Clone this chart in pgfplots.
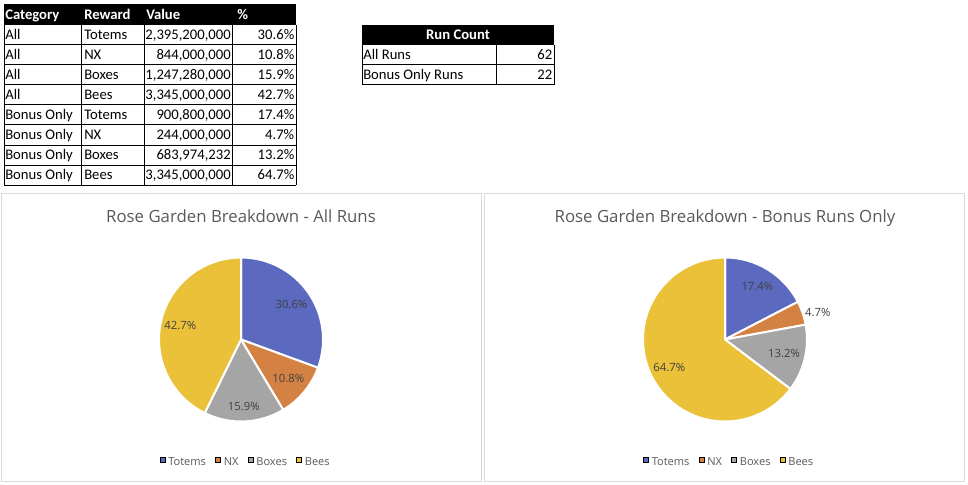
\documentclass[border=0pt]{standalone}
\usepackage{fontspec}
\setmainfont{Carlito}
\newfontfamily\chartfont{Open Sans}
\usepackage{pgfplots}
\pgfplotsset{compat=1.18}
\definecolor{totems}{HTML}{5B69BF}
\definecolor{nx}{HTML}{D38244}
\definecolor{boxes}{HTML}{A5A5A5}
\definecolor{bees}{HTML}{EBC13A}
\definecolor{lbl}{HTML}{404040}
\definecolor{ttl}{HTML}{595959}
\definecolor{brd}{HTML}{D9D9D9}
\newcommand\lblfont{\chartfont\fontsize{8.5}{10}\selectfont}
\newcommand\legfont{\chartfont\fontsize{8.3}{10}\selectfont}
\newcommand\titlefont{\chartfont\fontsize{12.6}{15}\selectfont}
\gdef\cum{90}
% one slice: percentage, colour
\newcommand\pieslice[2]{%
  \pgfmathsetmacro\ea{\cum-3.6*#1}%
  \pgfmathsetmacro\px{cos(\cum)}\pgfmathsetmacro\py{sin(\cum)}%
  \edef\tmp{\noexpand\filldraw[fill=#2,draw=white,line width=1.5pt,line join=round] (axis cs:0,0) -- (axis cs:\px,\py) arc[start angle=\cum,end angle=\ea,radius=61.5pt] -- cycle;}%
  \tmp\xdef\cum{\ea}}
% one label: percentage, radius, node options
\newcommand\pielabel[3]{%
  \pgfmathsetmacro\ea{\cum-3.6*#1}%
  \pgfmathsetmacro\ma{(\cum+\ea)/2}%
  \pgfmathsetmacro\lx{#2*cos(\ma)}%
  \pgfmathsetmacro\ly{#2*sin(\ma)}%
  \edef\tmp{\noexpand\node[font=\noexpand\lblfont,text=lbl,inner sep=0pt,#3] at (axis cs:\lx,\ly) {#1\noexpand\%};}%
  \tmp\xdef\cum{\ea}}
\newcommand\trow[5]{%
  \node[anchor=base west] at (5,#1) {#2};
  \node[anchor=base west] at (84,#1) {#3};
  \node[anchor=base east] at (231,#1) {#4};
  \node[anchor=base east] at (294.5,#1) {#5};}
\pgfplotsset{pie/.style={scale only axis, width=123pt, height=123pt,
  xmin=-1, xmax=1, ymin=-1, ymax=1, hide axis, clip=false, anchor=center,
  legend columns=-1,
  legend image code/.code={\fill[##1] (0pt,0.4pt) rectangle (3.75pt,4.15pt);},
  legend style={draw=none, fill=none, font=\legfont, text=ttl, anchor=center,
    nodes={inner sep=1pt},
    /tikz/every odd column/.append style={column sep=1.2pt},
    /tikz/every even column/.append style={column sep=6pt}}}}
\begin{document}
\begin{tikzpicture}
\begin{scope}[x=0.75pt,y=-0.75pt]
\path[use as bounding box] (0,0) rectangle (968,485);
% main table
\fill[black] (4,4.5) rectangle (296,25);
\begin{scope}[every node/.style={inner sep=0pt}, font=\fontsize{11}{13}\selectfont]
\node[anchor=base west,text=white,font=\fontsize{11}{13}\selectfont\bfseries] at (5,20) {Category};
\node[anchor=base west,text=white,font=\fontsize{11}{13}\selectfont\bfseries] at (84,20) {Reward};
\node[anchor=base west,text=white,font=\fontsize{11}{13}\selectfont\bfseries] at (146,20) {Value};
\node[anchor=base west,text=white,font=\fontsize{11}{13}\selectfont\bfseries] at (237,20) {\%};
\trow{40}{All}{Totems}{2,395,200,000}{30.6\%}
\trow{60}{All}{NX}{844,000,000}{10.8\%}
\trow{80}{All}{Boxes}{1,247,280,000}{15.9\%}
\trow{100}{All}{Bees}{3,345,000,000}{42.7\%}
\trow{120}{Bonus Only}{Totems}{900,800,000}{17.4\%}
\trow{140}{Bonus Only}{NX}{244,000,000}{4.7\%}
\trow{160}{Bonus Only}{Boxes}{683,974,232}{13.2\%}
\trow{180}{Bonus Only}{Bees}{3,345,000,000}{64.7\%}
% run count table
\fill[black] (362,25) rectangle (554,45);
\node[anchor=base,text=white,font=\fontsize{11}{13}\selectfont\bfseries] at (458,40) {Run Count};
\node[anchor=base west] at (363,60) {All Runs};
\node[anchor=base east] at (552.5,60) {62};
\node[anchor=base west] at (363,80) {Bonus Only Runs};
\node[anchor=base east] at (552.5,80) {22};
\end{scope}
\begin{scope}[line width=0.75pt]
\foreach \yy in {25,45,...,185} \draw (4,\yy) -- (296,\yy);
\foreach \xx in {4,81,144,232,296} \draw (\xx,25) -- (\xx,185);
\foreach \yy in {45,65,85} \draw (362,\yy) -- (554,\yy);
\foreach \xx in {362,496,554} \draw (\xx,45) -- (\xx,85);
\end{scope}
% chart panels
\draw[brd,line width=0.75pt] (1.5,193.5) rectangle (481.5,481.5);
\draw[brd,line width=0.75pt] (484,193.5) rectangle (964.5,481.5);
\node[font=\titlefont,text=ttl,anchor=base,inner sep=0pt] at (241,222.7) {Rose Garden Breakdown - All Runs};
\node[font=\titlefont,text=ttl,anchor=base,inner sep=0pt] at (725,222.7) {Rose Garden Breakdown - Bonus Runs Only};
\end{scope}
% left pie
\begin{axis}[pie, at={(180.75pt,-254.625pt)}, legend style={at={(0.527,-0.253)}}]
\addlegendimage{fill=totems}\addlegendentry{Totems}
\addlegendimage{fill=nx}\addlegendentry{NX}
\addlegendimage{fill=boxes}\addlegendentry{Boxes}
\addlegendimage{fill=bees}\addlegendentry{Bees}
\gdef\cum{90}
\pieslice{30.6}{totems}
\pieslice{10.8}{nx}
\pieslice{15.9}{boxes}
\pieslice{42.7}{bees}
\gdef\cum{90}
\pielabel{30.6}{0.75}{}
\pielabel{10.8}{0.75}{}
\pielabel{15.9}{0.82}{}
\pielabel{42.7}{0.76}{}
\end{axis}
% right pie
\begin{axis}[pie, at={(543.75pt,-254.625pt)}, legend style={at={(0.524,-0.253)}}]
\addlegendimage{fill=totems}\addlegendentry{Totems}
\addlegendimage{fill=nx}\addlegendentry{NX}
\addlegendimage{fill=boxes}\addlegendentry{Boxes}
\addlegendimage{fill=bees}\addlegendentry{Bees}
\gdef\cum{90}
\pieslice{17.4}{totems}
\pieslice{4.7}{nx}
\pieslice{13.2}{boxes}
\pieslice{64.7}{bees}
\gdef\cum{90}
\pielabel{17.4}{0.76}{}
\pielabel{4.7}{1.03}{anchor=west}
\pielabel{13.2}{0.74}{}
\pielabel{64.7}{0.76}{}
\end{axis}
\end{tikzpicture}
\end{document}
